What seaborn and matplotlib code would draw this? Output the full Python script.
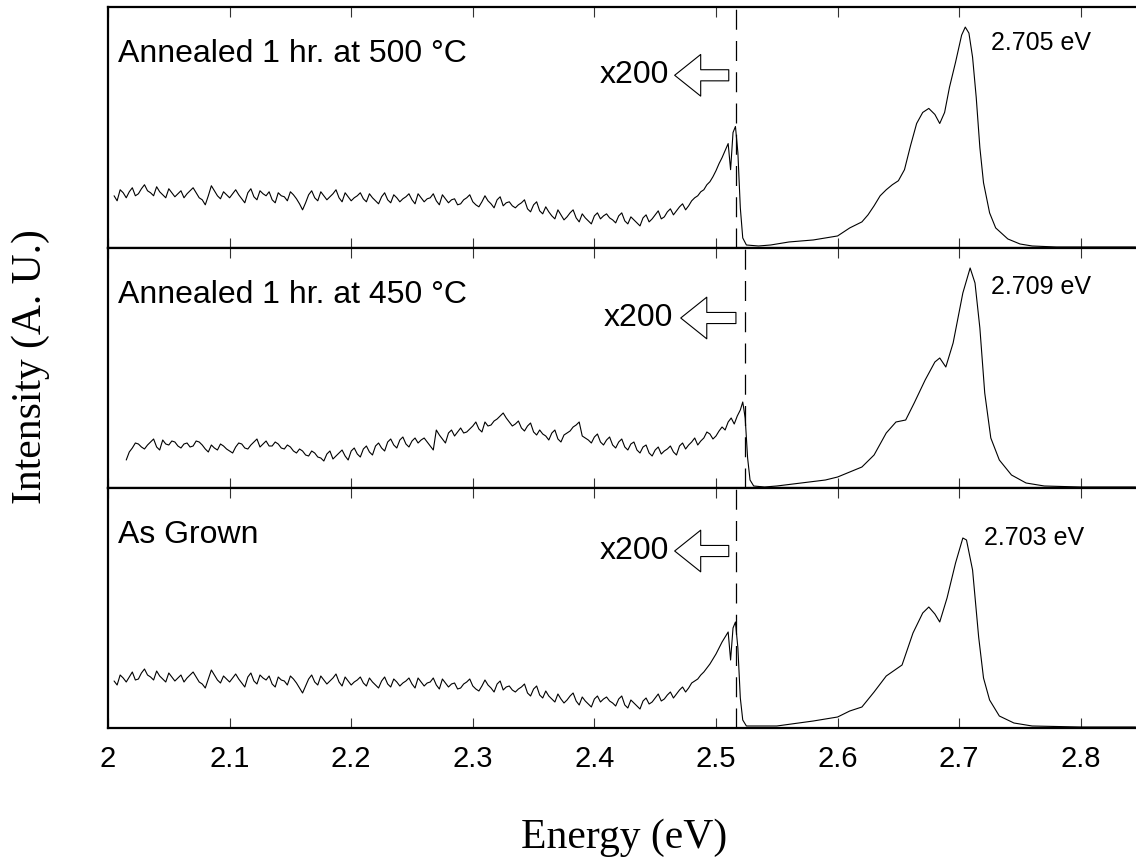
"""
plot.py

Stacked PL spectra (as grown / annealed) drawn with seaborn.
"""

import numpy as np
import pandas as pd
import matplotlib.pyplot as plt
import seaborn as sns

# ---- data (intensity in arbitrary units, 0..240) ----

# noisy x200 part, read every 2.5 meV
top_noise_range = (2.005, 2.510)
top_noise = [
    52, 47, 58, 55, 50, 56, 60, 52, 54, 59, 63, 57, 55, 52, 61, 56, 53, 50, 59, 55,
    51, 54, 57, 50, 54, 57, 60, 55, 50, 48, 43, 52, 62, 57, 52, 49, 56, 53, 50, 54,
    58, 53, 49, 45, 55, 59, 51, 48, 57, 54, 52, 56, 48, 45, 55, 52, 51, 47, 56, 53,
    49, 44, 38, 45, 53, 57, 50, 47, 56, 52, 48, 51, 54, 58, 50, 46, 55, 51, 47, 50,
    52, 55, 49, 46, 54, 50, 47, 44, 51, 55, 48, 45, 53, 50, 46, 49, 51, 54, 48, 44,
    54, 50, 46, 49, 50, 54, 47, 43, 53, 49, 45, 48, 49, 43, 44, 48, 50, 53, 46, 43,
    41, 46, 52, 47, 44, 40, 48, 51, 42, 45, 46, 42, 40, 43, 45, 48, 39, 36, 43, 46,
    37, 34, 41, 36, 32, 29, 38, 33, 28, 31, 35, 38, 30, 26, 34, 30, 27, 24, 32, 35,
    29, 32, 34, 30, 28, 25, 32, 35, 27, 24, 31, 28, 25, 22, 30, 33, 26, 29, 33, 37,
    29, 31, 36, 39, 33, 37, 41, 44, 38, 42, 47, 50, 52, 56, 58, 63, 66, 71, 77, 84,
    90, 97, 104,
]
top_peak_e = [2.512, 2.514, 2.516, 2.518, 2.520, 2.522, 2.525, 2.535, 2.545, 2.56,
              2.58, 2.59, 2.60, 2.61, 2.62, 2.625, 2.63, 2.635, 2.64, 2.645,
              2.65, 2.655, 2.66, 2.665, 2.67, 2.675, 2.68, 2.684, 2.688, 2.692,
              2.697, 2.702, 2.705, 2.708, 2.711, 2.714, 2.717, 2.72, 2.725, 2.73,
              2.74, 2.75, 2.76, 2.78, 2.80, 2.845]
top_peak = [78, 115, 121, 95, 40, 10, 3, 2, 3, 6,
            8, 10, 12, 20, 26, 33, 42, 52, 58, 63,
            67, 78, 102, 124, 135, 139, 133, 124, 135, 160,
            185, 212, 220, 214, 190, 150, 100, 65, 35, 20,
            9, 4, 2, 1, 1, 1]

mid_noise_range = (2.015, 2.520)
mid_noise = [
    28, 36, 40, 45, 44, 41, 39, 43, 46, 49, 41, 38, 48, 44, 43, 47, 46, 42, 40, 44,
    45, 41, 42, 47, 46, 43, 39, 36, 43, 40, 38, 44, 42, 39, 37, 35, 41, 45, 44, 40,
    39, 43, 46, 49, 41, 44, 47, 42, 42, 46, 44, 40, 39, 43, 41, 37, 35, 39, 37, 33,
    32, 37, 35, 31, 30, 27, 34, 37, 29, 32, 35, 38, 32, 28, 37, 40, 34, 31, 39, 42,
    36, 33, 42, 45, 40, 37, 46, 49, 43, 40, 48, 51, 44, 41, 47, 50, 45, 48, 50, 46,
    42, 38, 58, 53, 49, 45, 55, 58, 52, 56, 60, 55, 56, 59, 62, 66, 59, 56, 66, 62,
    63, 67, 69, 72, 75, 70, 66, 62, 64, 67, 60, 57, 62, 65, 56, 53, 58, 54, 52, 48,
    55, 58, 49, 46, 53, 55, 57, 61, 63, 66, 52, 50, 48, 45, 51, 54, 46, 43, 48, 51,
    43, 40, 46, 49, 41, 38, 44, 46, 38, 35, 41, 43, 35, 32, 38, 41, 34, 37, 39, 42,
    36, 33, 42, 45, 39, 43, 46, 50, 43, 47, 50, 56, 54, 49, 52, 57, 61, 58, 66, 70,
    64, 72, 78,
]
mid_peak_e = [2.522, 2.524, 2.526, 2.528, 2.531, 2.54, 2.55, 2.57, 2.59, 2.60,
              2.61, 2.62, 2.63, 2.64, 2.648, 2.656, 2.663, 2.672, 2.68, 2.684,
              2.689, 2.695, 2.703, 2.709, 2.713, 2.717, 2.721, 2.726, 2.733, 2.743,
              2.755, 2.77, 2.80, 2.845]
mid_peak = [86, 70, 30, 8, 2, 1, 2, 5, 8, 11,
            16, 21, 33, 55, 66, 68, 85, 108, 126, 130,
            121, 145, 195, 220, 205, 160, 95, 50, 28, 13,
            5, 2, 1, 1]

bot_noise_range = (2.005, 2.510)
bot_noise = [
    47, 43, 53, 50, 46, 51, 56, 48, 49, 55, 59, 53, 51, 48, 57, 52, 49, 46, 55, 51,
    47, 50, 53, 46, 50, 53, 56, 51, 46, 44, 40, 49, 58, 53, 48, 45, 52, 49, 46, 50,
    54, 49, 45, 41, 51, 55, 47, 44, 53, 50, 48, 52, 44, 41, 51, 48, 47, 43, 52, 49,
    45, 40, 35, 42, 49, 53, 46, 43, 52, 48, 44, 47, 50, 54, 46, 42, 51, 47, 43, 46,
    48, 51, 45, 42, 50, 46, 43, 40, 47, 51, 44, 41, 49, 46, 42, 45, 47, 50, 44, 40,
    50, 46, 42, 45, 46, 50, 43, 39, 49, 45, 41, 44, 45, 39, 40, 44, 46, 49, 42, 39,
    37, 42, 48, 43, 40, 36, 44, 47, 38, 41, 42, 38, 36, 39, 41, 44, 35, 32, 39, 42,
    33, 30, 37, 32, 29, 26, 34, 29, 25, 28, 32, 35, 27, 23, 31, 27, 24, 21, 29, 32,
    26, 29, 31, 27, 25, 22, 29, 32, 23, 20, 28, 25, 22, 19, 27, 30, 24, 26, 30, 34,
    27, 29, 33, 36, 30, 34, 38, 41, 36, 40, 45, 47, 49, 53, 56, 60, 64, 69, 74, 80,
    86, 91, 96,
]
bot_peak_e = [2.512, 2.514, 2.516, 2.518, 2.520, 2.522, 2.525, 2.55, 2.58, 2.60,
              2.61, 2.62, 2.63, 2.64, 2.653, 2.662, 2.67, 2.675, 2.68, 2.684,
              2.69, 2.697, 2.703, 2.706, 2.711, 2.716, 2.72, 2.725, 2.733, 2.745,
              2.76, 2.80, 2.845]
bot_peak = [68, 100, 106, 80, 30, 8, 2, 2, 7, 11,
            17, 21, 36, 52, 63, 95, 115, 121, 114, 106,
            130, 165, 190, 188, 158, 91, 50, 28, 12, 5,
            2, 1, 1]

panel_names = ["Annealed 1 hr. at 500 °C", "Annealed 1 hr. at 450 °C", "As Grown"]
peak_labels = ["2.705 eV", "2.709 eV", "2.703 eV"]
x_ticks = [2.0, 2.1, 2.2, 2.3, 2.4, 2.5, 2.6, 2.7, 2.8]
x_tick_labels = ["2", "2.1", "2.2", "2.3", "2.4", "2.5", "2.6", "2.7", "2.8"]

# ---- build one long table ----
frames = []
for name, rng, nv, pe, pv in [
    (panel_names[0], top_noise_range, top_noise, top_peak_e, top_peak),
    (panel_names[1], mid_noise_range, mid_noise, mid_peak_e, mid_peak),
    (panel_names[2], bot_noise_range, bot_noise, bot_peak_e, bot_peak),
]:
    ne = np.linspace(rng[0], rng[1], len(nv))
    frames.append(pd.DataFrame({
        "energy": np.concatenate([ne, pe]),
        "intensity": np.concatenate([nv, pv]),
        "sample": name,
    }))
df = pd.concat(frames, ignore_index=True)

# ---- annotation placement ----
dash_x = [2.5165, 2.5235, 2.5165]
label_y = [193, 193, 193]
peak_text_xy = [(2.726, 204), (2.726, 201), (2.720, 190)]
x200_text_x = [2.461, 2.465, 2.461]
arrow_tip = [(2.466, 172), (2.471, 170), (2.466, 177)]
arrow_tail = [(2.5105, 172), (2.5164, 170), (2.5105, 177)]

sns.set_style("white")
plt.rcParams["font.family"] = ["Liberation Sans", "DejaVu Sans"]
plt.rcParams["text.color"] = "black"

fig = plt.figure(figsize=(11.36, 8.63), dpi=100)

left = 108 / 1136
width = 1 - left
panel_px = [(7, 248), (248, 488), (488, 728)]

for i, name in enumerate(panel_names):
    top_px, bot_px = panel_px[i]
    ax = fig.add_axes([left, 1 - bot_px / 863, width, (bot_px - top_px) / 863])

    sub = df[df["sample"] == name]
    sns.lineplot(data=sub, x="energy", y="intensity", ax=ax, color="black",
                 linewidth=0.8, estimator=None, sort=False, legend=False)

    ax.set_xlim(2.0, 2.8454)
    ax.set_ylim(0, 240)
    ax.set_xlabel("")
    ax.set_ylabel("")
    ax.set_yticks([])
    ax.set_xticks(x_ticks)
    ax.tick_params(axis="x", direction="in", top=True, bottom=True,
                   length=7, width=0.8, color="#333333", labelcolor="black",
                   labelbottom=(i == 2), labelsize=21, pad=12)
    if i == 2:
        ax.set_xticklabels(x_tick_labels)

    for side in ["left", "top", "bottom"]:
        ax.spines[side].set_linewidth(1.6)
        ax.spines[side].set_color("black")
    ax.spines["right"].set_visible(False)

    # dashed x200 boundary
    ax.axvline(dash_x[i], color="black", linewidth=0.9, dashes=(16, 9))

    ax.text(0.0095, label_y[i], name, transform=ax.get_yaxis_transform(),
            fontsize=23, va="center", ha="left")
    ax.text(peak_text_xy[i][0], peak_text_xy[i][1], peak_labels[i],
            fontsize=18, va="center", ha="left")
    ax.text(x200_text_x[i], arrow_tip[i][1], "x200", fontsize=23,
            va="center", ha="right")
    ax.annotate("", xy=arrow_tip[i], xytext=arrow_tail[i],
                arrowprops=dict(
                    arrowstyle="simple,head_length=0.75,head_width=1.2,tail_width=0.32",
                    fc="white", ec="black", lw=0.8, mutation_scale=25,
                    shrinkA=0, shrinkB=0))

fig.text(624 / 1136, 1 - 838 / 863, "Energy (eV)", fontsize=30,
         family=["Liberation Serif", "DejaVu Serif"], ha="center", va="center")
fig.text(31 / 1136, 1 - 367 / 863, "Intensity (A. U.)", fontsize=30,
         family=["Liberation Serif", "DejaVu Serif"], ha="center", va="center",
         rotation=90)

fig.savefig("out.png", dpi=100)
